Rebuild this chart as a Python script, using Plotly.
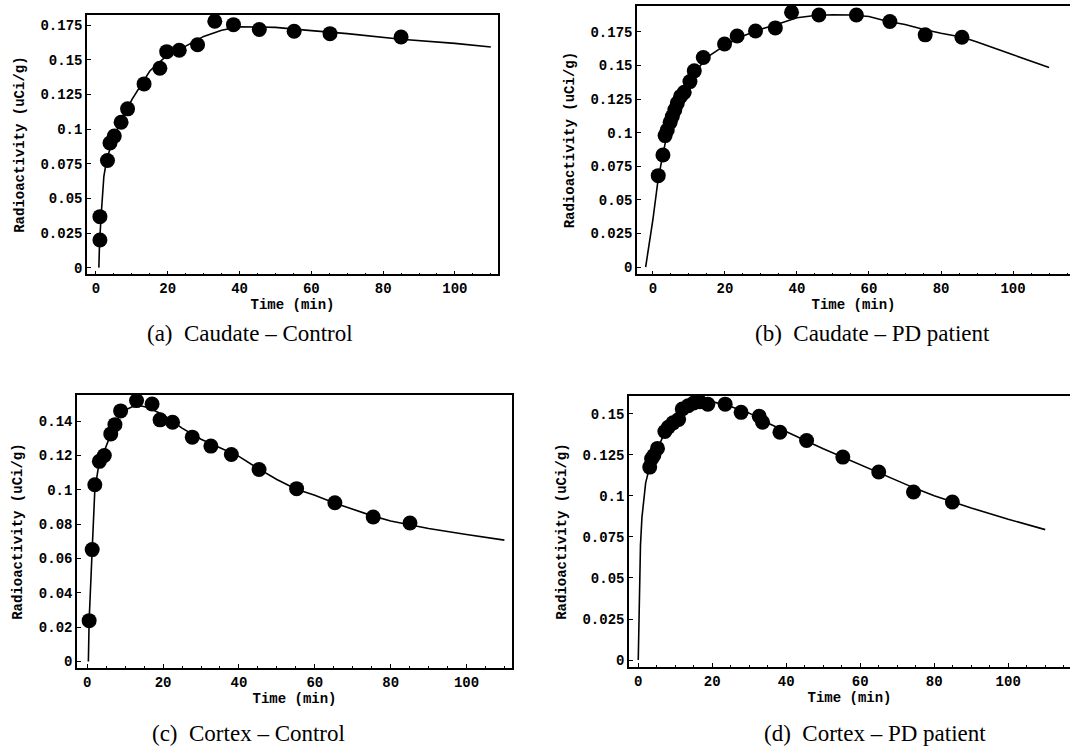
import plotly.graph_objects as go

# ---------------- data ----------------
# (a) Caudate - Control
a_t = [1.1, 1.1, 3.2, 3.9, 5.1, 7.0, 8.8, 13.4, 17.8, 19.7, 23.2, 28.3, 33.1, 38.3, 45.5, 55.2, 65.2, 85.0]
a_y = [0.020, 0.0368, 0.0774, 0.090, 0.095, 0.105, 0.1147, 0.1327, 0.144, 0.156, 0.157, 0.161, 0.178, 0.1755, 0.172, 0.1707, 0.169, 0.1666]
a_fit_t = [0.8, 1.0, 1.5, 2.2, 3, 5, 7, 10, 15, 20, 25, 30, 35, 40, 45, 50, 60, 70, 85, 100, 110]
a_fit_y = [0.0, 0.018, 0.040, 0.066, 0.078, 0.095, 0.1058, 0.1214, 0.142, 0.1538, 0.160, 0.167, 0.1715, 0.1740, 0.1738, 0.1735, 0.1712, 0.169, 0.165, 0.162, 0.1594]

# (b) Caudate - PD patient
b_t = [1.5, 2.8, 3.4, 4.0, 4.8, 5.4, 6.1, 6.8, 7.7, 8.7, 10.3, 11.5, 14.0, 19.9, 23.4, 28.5, 34.0, 38.5, 46.1, 56.5, 65.8, 75.6, 85.8]
b_y = [0.068, 0.0834, 0.0978, 0.102, 0.1077, 0.112, 0.117, 0.122, 0.127, 0.130, 0.138, 0.146, 0.156, 0.166, 0.172, 0.1757, 0.178, 0.1896, 0.1876, 0.1876, 0.1827, 0.1728, 0.171]
b_fit_t = [-2.0, 0, 1.5, 3, 4, 5, 7, 10, 12, 15, 20, 25, 30, 35, 40, 45, 50, 55, 60, 65, 70, 75, 80, 86, 90, 100, 110]
b_fit_y = [0.0, 0.035, 0.066, 0.088, 0.100, 0.107, 0.121, 0.137, 0.146, 0.156, 0.165, 0.172, 0.177, 0.181, 0.1855, 0.1872, 0.1878, 0.1876, 0.1865, 0.183, 0.1805, 0.177, 0.174, 0.171, 0.1675, 0.158, 0.1485]

# (c) Cortex - Control
c_t = [0.5, 1.3, 2.0, 3.2, 4.5, 6.2, 7.3, 8.8, 13.0, 17.1, 19.2, 22.5, 27.7, 32.6, 38.0, 45.3, 55.2, 65.3, 75.4, 85.1]
c_y = [0.0238, 0.0652, 0.103, 0.1166, 0.120, 0.1326, 0.138, 0.146, 0.152, 0.150, 0.1408, 0.1394, 0.1307, 0.1255, 0.1206, 0.1119, 0.1007, 0.0925, 0.0842, 0.0807]
c_fit_t = [0.3, 0.5, 1.3, 2, 3, 4, 5, 6, 7, 8.5, 10, 12, 14, 16, 18, 20, 25, 30, 35, 40, 45, 50, 55, 60, 65, 70, 75, 80, 85, 90, 100, 110]
c_fit_y = [0.0, 0.024, 0.065, 0.100, 0.114, 0.120, 0.125, 0.131, 0.137, 0.143, 0.1465, 0.1485, 0.149, 0.148, 0.146, 0.1438, 0.136, 0.1295, 0.1245, 0.1195, 0.1125, 0.106, 0.1005, 0.0968, 0.0925, 0.0887, 0.0850, 0.0819, 0.0797, 0.0775, 0.0740, 0.0707]

# (d) Cortex - PD patient
d_t = [3.1, 3.6, 4.2, 5.2, 7.2, 8.1, 9.4, 10.9, 11.9, 13.5, 15.0, 16.6, 18.8, 23.5, 27.8, 32.7, 33.6, 38.3, 45.5, 55.3, 65.0, 74.4, 84.9]
d_y = [0.1176, 0.1227, 0.1247, 0.129, 0.1393, 0.1419, 0.1446, 0.1466, 0.153, 0.155, 0.1567, 0.1575, 0.156, 0.156, 0.151, 0.1486, 0.145, 0.1389, 0.1338, 0.1237, 0.1146, 0.1024, 0.0963]
d_fit_t = [0, 0.3, 0.6, 1, 1.5, 2, 3, 5, 7, 10, 13, 16, 20, 25, 30, 35, 40, 45, 50, 55, 60, 65, 70, 75, 80, 85, 90, 100, 110]
d_fit_y = [0.0, 0.040, 0.070, 0.087, 0.100, 0.108, 0.117, 0.128, 0.138, 0.147, 0.153, 0.1565, 0.1575, 0.1545, 0.1505, 0.1445, 0.139, 0.134, 0.1288, 0.124, 0.1193, 0.1145, 0.1095, 0.1045, 0.1002, 0.0963, 0.0927, 0.0858, 0.0795]

x_ticks = [0, 20, 40, 60, 80, 100]
y_ticks_ab = [0, 0.025, 0.05, 0.075, 0.1, 0.125, 0.15, 0.175]
y_text_ab = ["0", "0.025", "0.05", "0.075", "0.1", "0.125", "0.15", "0.175"]
y_ticks_c = [0, 0.02, 0.04, 0.06, 0.08, 0.1, 0.12, 0.14]
y_text_c = ["0", "0.02", "0.04", "0.06", "0.08", "0.1", "0.12", "0.14"]
y_ticks_d = [0, 0.025, 0.05, 0.075, 0.1, 0.125, 0.15]
y_text_d = ["0", "0.025", "0.05", "0.075", "0.1", "0.125", "0.15"]

captions = ["(a)  Caudate \u2013 Control", "(b)  Caudate \u2013 PD patient",
            "(c)  Cortex \u2013 Control", "(d)  Cortex \u2013 PD patient"]
x_title = "Time (min)"
y_title = "Radioactivity (uCi/g)"

# ---------------- figure ----------------
W, H = 1070, 750
fig = go.Figure()

panels = [
    dict(t=a_t, y=a_y, ft=a_fit_t, fy=a_fit_y, xdom=(87, 498), ydom=(15, 275),
         xr=(-2.5, 112), yr=(-0.0048, 0.1825), yt=y_ticks_ab, ytt=y_text_ab, ymirror=True),
    dict(t=b_t, y=b_y, ft=b_fit_t, fy=b_fit_y, xdom=(637, 1070), ydom=(6, 275),
         xr=(-4.4, 115.8), yr=(-0.0054, 0.1943), yt=y_ticks_ab, ytt=y_text_ab, ymirror=False),
    dict(t=c_t, y=c_y, ft=c_fit_t, fy=c_fit_y, xdom=(77, 512), ydom=(396, 670),
         xr=(-2.7, 112), yr=(-0.0039, 0.1553), yt=y_ticks_c, ytt=y_text_c, ymirror=True),
    dict(t=d_t, y=d_y, ft=d_fit_t, fy=d_fit_y, xdom=(629, 1070), ydom=(397, 669),
         xr=(-2.5, 116.7), yr=(-0.0044, 0.161), yt=y_ticks_d, ytt=y_text_d, ymirror=False),
]

tick_font = dict(family="Liberation Mono", size=14, color="black", weight="bold")
title_font = dict(family="Liberation Mono", size=14, color="black", weight="bold")

for i, p in enumerate(panels):
    n = "" if i == 0 else str(i + 1)
    xa, ya = "x" + n, "y" + n
    fig.add_trace(go.Scatter(x=p["ft"], y=p["fy"], mode="lines", xaxis=xa, yaxis=ya,
                             line=dict(color="black", width=1.6), showlegend=False,
                             hoverinfo="skip"))
    fig.add_trace(go.Scatter(x=p["t"], y=p["y"], mode="markers", xaxis=xa, yaxis=ya,
                             marker=dict(color="black", size=15), showlegend=False))
    xd = [p["xdom"][0] / W, p["xdom"][1] / W]
    yd = [1 - p["ydom"][1] / H, 1 - p["ydom"][0] / H]
    fig.layout["xaxis" + n] = dict(
        domain=xd, range=list(p["xr"]), anchor=ya, tickvals=x_ticks,
        ticks="inside", ticklen=4, tickcolor="black", showline=True, linecolor="black",
        linewidth=1.5, mirror=True, showgrid=False, zeroline=False, tickfont=tick_font,
        minor=dict(ticks="inside", ticklen=2, dtick=5, tickcolor="black"),
        title=dict(text=x_title, font=title_font, standoff=1))
    fig.layout["yaxis" + n] = dict(
        domain=yd, range=list(p["yr"]), anchor=xa, tickvals=p["yt"], ticktext=p["ytt"],
        ticks="inside", ticklen=4, tickcolor="black", showline=True, linecolor="black",
        linewidth=1.5, mirror=p["ymirror"], showgrid=False, zeroline=False, tickfont=tick_font,
        title=dict(text=y_title, font=title_font, standoff=13))

cap_pos = [(250, 334), (872, 334), (248, 735), (875, 735)]
for cap, (cx, cy) in zip(captions, cap_pos):
    fig.add_annotation(text=cap, x=cx / W, y=1 - cy / H, xref="paper", yref="paper",
                       showarrow=False, xanchor="center", yanchor="middle",
                       font=dict(family="Liberation Serif", size=23, color="black"))

fig.update_layout(width=W, height=H, margin=dict(l=0, r=0, t=0, b=0),
                  paper_bgcolor="white", plot_bgcolor="white")

# remove the default 8px page margin so the figure sits at the window's top-left corner
fig.write_html("out.html", config={"displayModeBar": False},
               post_script="document.body.style.margin='0';")
